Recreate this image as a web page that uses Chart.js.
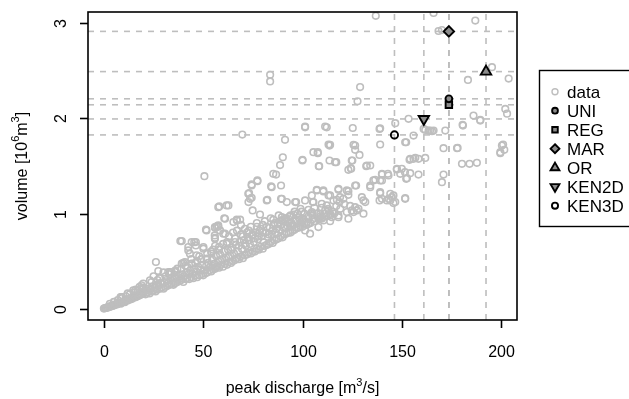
<!DOCTYPE html>
<html lang="en">
<head>
  <meta charset="UTF-8" />
  <title>Peak discharge vs volume</title>
  <script src="https://cdn.jsdelivr.net/npm/chart.js@4"></script>
  <style>
    html, body { margin: 0; padding: 0; background: #fff; }
    #chart { display: block; }
  </style>
</head>
<body>
  <canvas id="chart" width="629" height="399"></canvas>

  <script>
    // axis limits (R adds 4% on each side) and ticks
    const xLimits = [0, 200];
    const yLimits = [0, 3];
    const xTicks = [0, 50, 100, 150, 200];
    const yTicks = [0, 1, 2, 3];

    // design event estimates per method
    const methodNames = ['UNI', 'REG', 'MAR', 'OR', 'KEN2D', 'KEN3D'];
    const methodPeak = [173.7, 173.7, 173.7, 192.4, 161.1, 146.3];
    const methodVolume = [2.207, 2.144, 2.916, 2.493, 1.995, 1.827];

    const obsPoints = [
      [0,0],[0.5,0.004],[1,0.006],[1.5,0.01],[2,0.012],[2.5,0.02],[3,0.018],[3.5,0.025],[4,0.03],[4.5,0.028],
      [5,0.035],[5.5,0.04],[6,0.045],[6.5,0.042],[7,0.05],[7.5,0.055],[8,0.06],[8.5,0.052],[9,0.065],[9.5,0.07],
      [10,0.075],[10.5,0.068],[11,0.08],[11.5,0.09],[12,0.085],[12.5,0.1],[13,0.095],[13.5,0.11],[14,0.1],[14.5,0.12],
      [15,0.115],[15.5,0.13],[16,0.12],[16.5,0.14],[17,0.13],[17.5,0.15],[18,0.14],[18.5,0.16],[19,0.15],[19.5,0.17],
      [20,0.16],[3,0.05],[5,0.07],[7,0.09],[9,0.11],[11,0.13],[13,0.15],[15,0.17],[17,0.19],[19,0.21],[12,0.16],
      [16,0.2],[18,0.23],[20,0.22],
      [21,0.15],[21.5,0.19],[22,0.17],[22.5,0.21],[23,0.16],[23.5,0.2],[24,0.18],[24.5,0.23],[25,0.19],[25.5,0.22],
      [26,0.18],[26.5,0.25],[27,0.2],[27.5,0.24],[28,0.21],[28.5,0.27],[29,0.22],[29.5,0.26],[30,0.21],[30.5,0.28],
      [31,0.23],[31.5,0.3],[32,0.24],[32.5,0.27],[33,0.25],[33.5,0.31],[34,0.26],[34.5,0.29],[35,0.25],[35.5,0.33],
      [36,0.27],[36.5,0.31],[37,0.28],[37.5,0.35],[38,0.29],[38.5,0.32],[39,0.3],[39.5,0.36],[40,0.28],[40.5,0.34],
      [41,0.31],[41.5,0.38],[42,0.32],[42.5,0.36],[43,0.31],[43.5,0.4],[44,0.33],[44.5,0.37],[45,0.32],[45.5,0.42],
      [46,0.35],[46.5,0.39],[47,0.33],[47.5,0.44],[48,0.35],[48.5,0.41],[49,0.36],[49.5,0.46],[50,0.35],
      [24,0.28],[28,0.32],[33,0.36],[36,0.4],[39,0.42],[41,0.45],[44,0.47],[47,0.5],[49,0.52],
      [50.5,0.4],[51,0.37],[51.5,0.45],[52,0.38],[52.5,0.48],[53,0.4],[53.5,0.44],[54,0.39],[54.5,0.52],[55,0.41],
      [55.5,0.47],[56,0.42],[56.5,0.55],[57,0.44],[57.5,0.5],[58,0.43],[58.5,0.57],[59,0.46],[59.5,0.52],[60,0.44],
      [60.5,0.6],[61,0.47],[61.5,0.54],[62,0.46],[62.5,0.62],[63,0.49],[63.5,0.56],[64,0.48],[64.5,0.64],[65,0.5],
      [65.5,0.58],[66,0.51],[66.5,0.67],[67,0.53],[67.5,0.6],[68,0.52],[68.5,0.7],[69,0.55],[69.5,0.63],[70,0.53],
      [70.5,0.72],[71,0.56],[71.5,0.66],[72,0.57],[72.5,0.75],[73,0.59],[73.5,0.68],[74,0.58],[74.5,0.77],[75,0.6],
      [75.5,0.7],[76,0.6],[76.5,0.8],[77,0.63],[77.5,0.73],[78,0.62],[78.5,0.82],[79,0.65],[79.5,0.76],[80,0.63],
      [52,0.58],[55,0.62],[58,0.65],[62,0.7],[66,0.74],[69,0.78],[73,0.82],[77,0.86],[80,0.88],
      [80.5,0.7],[81,0.66],[81.5,0.8],[82,0.67],[82.5,0.75],[83,0.68],[83.5,0.85],[84,0.7],[84.5,0.78],[85,0.69],
      [85.5,0.88],[86,0.72],[86.5,0.8],[87,0.73],[87.5,0.9],[88,0.74],[88.5,0.83],[89,0.76],[89.5,0.93],[90,0.75],
      [90.5,0.85],[91,0.78],[91.5,0.95],[92,0.79],[92.5,0.87],[93,0.8],[93.5,0.97],[94,0.8],[94.5,0.9],[95,0.82],
      [95.5,0.99],[96,0.83],[96.5,0.92],[97,0.85],[97.5,1.0],[98,0.85],[98.5,0.94],[99,0.87],[99.5,1.02],[100,0.86],
      [101,0.9],[102,0.88],[103,0.97],[104,0.9],[105,0.94],[106,0.92],[107,1.0],[108,0.94],[109,0.97],[110,0.96],
      [111,1.0],[112,0.97],[113,1.05],[114,0.98],[115,1.02],[116,1.0],[117,1.08],[119,1.05],[121,1.1],[124,1.08],
      [64,0.62],[66,0.7],[68,0.66],[70,0.76],[71,0.68],[72,0.8],[73,0.72],[74,0.86],[75,0.78],[76,0.74],
      [77,0.9],[78,0.76],[79,0.84],[80,0.8],[81,0.92],[82,0.86],[83,0.78],[84,0.95],[85,0.82],[86,0.9],
      [87,0.84],[88,0.98],[89,0.88],[90,0.92],[91,0.86],[92,0.95],[93,0.9],[94,0.98],[95,0.88],[96,1.02],
      [97,0.93],[98,0.96],[99,1.05],[100,0.92],[101,1.0],[103,1.04],[105,0.98],[106,1.06],[67,0.82],[69,0.88],
      [71,0.84],[63,0.76],[65,0.8],[60,0.68],[58,0.62],[56,0.66],[54,0.6],[52,0.52],[48,0.55],[46,0.48],
      [44,0.52],[42,0.44],[40,0.48],[37,0.42],[34,0.38],[31,0.34],[30,0.38],[27,0.3],[25,0.34],
      [136.9,3.08],[166.0,3.11],[187.0,3.03],[168.5,2.92],[170.2,2.93],[195.4,2.54],[183.3,2.405],[203.8,2.42],
      [83.7,2.46],[83.7,2.39],[129.0,2.33],[127.7,2.18],[202.1,2.10],[203.0,2.05],[186.1,2.03],[189.5,1.985],
      [180.8,1.925],[171.9,1.873],[161.0,1.89],[163.5,1.873],[165.2,1.866],[153.4,1.996],[146.7,1.95],[139.1,1.897],
      [125.3,1.90],[112.2,1.907],[101.3,1.907],[69.7,1.831],[91.2,1.775],[151.7,1.75],[155.9,1.82],[139.1,1.726],
      [126.5,1.715],[126.5,1.67],[113.6,1.715],[178.1,1.69],[201.0,1.726],[199.6,1.634],[201.6,1.67],[90.1,1.592],
      [88.7,1.51],[105.5,1.645],[107.7,1.634],[100.0,1.558],[113.6,1.558],[117.0,1.54],[108.2,1.498],[128.7,1.617],
      [125.1,1.558],[124.5,1.47],[123.1,1.46],[132.4,1.505],[134.1,1.505],[161.8,1.585],[158.4,1.575],[155.9,1.575],
      [153.9,1.565],[180.3,1.523],[184.1,1.523],[187.8,1.533],[171.0,1.41],[170.2,1.33],[158.4,1.41],[147.5,1.47],
      [150.0,1.47],[151.6,1.435],[154.2,1.424],[152.6,1.372],[143.0,1.418],[140.0,1.41],[139.1,1.348],[135.7,1.348],
      [134.1,1.295],[127.0,1.295],[107.2,1.25],[110.5,1.232],[113.9,1.19],[118.1,1.25],[123.1,1.235],[117.3,1.145],
      [120.6,1.155],[118.6,1.12],[129.9,1.172],[131.6,1.12],[139.1,1.214],[138.8,1.138],[142.5,1.138],[145.0,1.172],
      [145.8,1.11],[151.7,1.155],[144.2,1.208],[101.3,1.138],[96.3,1.12],[92.1,1.12],[89.6,1.155],[82.0,1.138],
      [105.5,1.12],[109.7,1.103],[113.1,1.033],[113.9,0.998],[108.5,0.945],[110.5,0.928],[118.1,0.962],[122.3,1.015],
      [125.7,1.015],[127.4,1.033],[130.7,0.998],[123.1,0.945],[113.9,0.92],[104.7,0.998],[72.7,1.208],[74.4,1.295],
      [77.3,1.34],[73.6,1.155],[74.9,1.033],[85.3,1.418],[84.5,1.277],[89.2,1.295],[50.6,1.393],[57.6,1.067],
      [61.8,1.085],[61.0,0.945],[65.2,0.91],[66.9,0.935],[51.7,0.822],[55.9,0.857],[57.6,0.86],[60.1,0.788],
      [55.9,0.735],[38.5,0.71],[42.5,0.647],[45.5,0.70],[43.3,0.578],[50.1,0.63],[26.2,0.49],[27.4,0.395],
      [33.3,0.385],[35.8,0.385],[23.2,0.297],[19.8,0.263],[14.8,0.192],[8.9,0.122],
      [138.8,1.89],[113.9,1.723],[125.7,1.723],[116.4,1.54],[124.8,1.558],[124.3,1.477],[132.1,1.498],[147.5,1.463],
      [149.2,1.418],[152.2,1.365],[154.2,1.575],[156.8,1.586],[140.0,1.418],[143.3,1.40],[140.0,1.348],[136.6,1.355],
      [134.1,1.277],[126.5,1.295],[122.3,1.243],[123.1,1.197],[118.1,1.26],[118.9,1.172],[115.6,1.138],[113.1,1.19],
      [110.5,1.243],[107.2,1.243],[104.7,1.19],[140.0,1.155],[143.3,1.155],[145.8,1.19],[146.7,1.12],[144.2,1.138],
      [139.1,1.225],[151.7,1.162],[130.7,1.138],[126.5,1.067],[124.8,1.033],[118.1,0.98],[114.8,0.962],[109.7,0.945],
      [108.9,0.998],[111.4,1.033],[100.5,0.945],[103.0,0.893],[101.3,0.822],[103.8,0.788],[128.2,1.05],[171.0,1.687],
      [180.6,1.933],[189.5,1.978],[200.4,1.715],[199.6,1.645],[161.8,1.88],[164.3,1.873],[166.0,1.873],[152.2,1.75],
      [177.8,1.687],
      [101.3,1.915],[111.4,1.915],[113.1,1.726],[107.7,1.645],[100.0,1.565],[108.4,1.498],[86.7,1.41],[74.4,1.306],
      [77.3,1.348],[84.2,1.285],[73.1,1.214],[74.4,1.166],[72.8,1.12],[82.3,1.145],[89.2,1.155],[96.8,1.12],
      [105.2,1.12],[58.1,1.075],[62.7,1.085],[78.6,0.99],[60.6,0.95],[67.0,0.928],[68.6,0.935],[51.4,0.83],
      [56.8,0.864],[58.5,0.822],[55.8,0.77],[39.2,0.71],[46.3,0.70],[50.1,0.647],[85.3,0.935],[89.6,0.962],
      [91.2,0.928],[94.6,0.864],[98.8,0.893],[102.2,0.91],[104.7,1.015],[109.7,1.06],[112.2,1.085],[108.0,0.857],
      [55.9,0.85],[57.6,0.875],[55.9,0.745],[61.0,0.788],[61.8,0.683],[44.2,0.70],[46.3,0.665],[42.5,0.612],
      [46.7,0.56],[44.2,0.473],[40.8,0.49],[51.7,0.525],[54.2,0.578],[55.9,0.437],[58.5,0.507],[62.7,0.542],
      [28.2,0.325],[32.4,0.385],[35.8,0.395],[39.2,0.473],[19.0,0.245],[8.4,0.122]
    ];

    // styles
    const dataGrey = '#bebebe';
    const markerFill = '#8a8a8a';
    const markerStyles = {
      UNI:   { shape: 'circle',   r: 3.4, rot: 0,   fill: markerFill },
      REG:   { shape: 'rect',     r: 4.6, rot: 0,   fill: markerFill },
      MAR:   { shape: 'rectRot',  r: 5.2, rot: 0,   fill: markerFill },
      OR:    { shape: 'triangle', r: 6.0, rot: 0,   fill: markerFill },
      KEN2D: { shape: 'triangle', r: 6.0, rot: 180, fill: markerFill },
      KEN3D: { shape: 'circle',   r: 3.6, rot: 0,   fill: 'rgba(0,0,0,0)' }
    };

    const xPad = (xLimits[1] - xLimits[0]) * 0.04;
    const yPad = (yLimits[1] - yLimits[0]) * 0.04;
    const xMin = xLimits[0] - xPad, xMax = xLimits[1] + xPad;
    const yMin = yLimits[0] - yPad, yMax = yLimits[1] + yPad;

    const datasets = [];

    datasets.push({
      label: 'data',
      data: obsPoints.map(p => ({ x: p[0], y: p[1] })),
      pointStyle: 'circle',
      pointRadius: 3.3,
      borderWidth: 1.6,
      borderColor: dataGrey,
      backgroundColor: 'rgba(0,0,0,0)',
      clip: 0,
      order: 3
    });

    // dashed reference lines through each estimate
    methodNames.forEach((name, i) => {
      const dashed = {
        showLine: true,
        pointRadius: 0,
        borderColor: dataGrey,
        borderWidth: 1.6,
        borderDash: [6, 6],
        clip: 0,
        order: 2
      };
      datasets.push(Object.assign({ label: name + '-h', data: [{ x: xMin, y: methodVolume[i] }, { x: xMax, y: methodVolume[i] }] }, dashed));
      datasets.push(Object.assign({ label: name + '-v', data: [{ x: methodPeak[i], y: yMin }, { x: methodPeak[i], y: yMax }] }, dashed));
    });

    methodNames.forEach((name, i) => {
      const st = markerStyles[name];
      datasets.push({
        label: name,
        data: [{ x: methodPeak[i], y: methodVolume[i] }],
        pointStyle: st.shape,
        pointRadius: st.r,
        rotation: st.rot,
        borderWidth: 1.9,
        borderColor: '#000',
        backgroundColor: st.fill,
        order: 1
      });
    });

    const FONT = '"Liberation Sans", Arial, Helvetica, sans-serif';

    // text with raised parts, centred on x at baseline y
    function drawRich(ctx, parts, x, y, size) {
      const supSize = Math.round(size * 0.7);
      let total = 0;
      parts.forEach(p => {
        ctx.font = (p.sup ? supSize : size) + 'px ' + FONT;
        p.w = ctx.measureText(p.t).width;
        total += p.w;
      });
      let cx = x - total / 2;
      ctx.textAlign = 'left';
      ctx.textBaseline = 'alphabetic';
      parts.forEach(p => {
        ctx.font = (p.sup ? supSize : size) + 'px ' + FONT;
        ctx.fillText(p.t, cx, p.sup ? y - size * 0.45 : y);
        cx += p.w;
      });
    }

    function drawMarker(ctx, shape, r, rot, x, y) {
      let rad = rot * Math.PI / 180;
      ctx.beginPath();
      if (shape === 'circle') {
        ctx.arc(x, y, r, 0, Math.PI * 2);
      } else if (shape === 'rect') {
        const s = r * Math.SQRT1_2;
        ctx.rect(x - s, y - s, 2 * s, 2 * s);
      } else if (shape === 'rectRot') {
        ctx.moveTo(x, y - r);
        ctx.lineTo(x + r, y);
        ctx.lineTo(x, y + r);
        ctx.lineTo(x - r, y);
        ctx.closePath();
      } else if (shape === 'triangle') {
        ctx.moveTo(x + Math.sin(rad) * r, y - Math.cos(rad) * r);
        rad += Math.PI * 2 / 3;
        ctx.lineTo(x + Math.sin(rad) * r, y - Math.cos(rad) * r);
        rad += Math.PI * 2 / 3;
        ctx.lineTo(x + Math.sin(rad) * r, y - Math.cos(rad) * r);
        ctx.closePath();
      }
      ctx.fill();
      ctx.stroke();
    }

    const rAxes = {
      id: 'rAxes',
      afterDraw(chart) {
        const ctx = chart.ctx;
        const area = chart.chartArea;
        const xs = chart.scales.x, ys = chart.scales.y;
        ctx.save();
        ctx.strokeStyle = '#000';
        ctx.fillStyle = '#000';
        ctx.lineWidth = 1.6;

        // box
        ctx.strokeRect(area.left, area.top, area.right - area.left, area.bottom - area.top);

        // x axis ticks + labels
        ctx.font = '16px ' + FONT;
        ctx.textAlign = 'center';
        ctx.textBaseline = 'alphabetic';
        xTicks.forEach(v => {
          const px = Math.round(xs.getPixelForValue(v)) + 0.5;
          ctx.beginPath();
          ctx.moveTo(px, area.bottom);
          ctx.lineTo(px, area.bottom + 8);
          ctx.stroke();
          ctx.fillText(String(v), px, 357);
        });

        // y axis ticks + rotated labels
        yTicks.forEach(v => {
          const py = Math.round(ys.getPixelForValue(v)) + 0.5;
          ctx.beginPath();
          ctx.moveTo(area.left, py);
          ctx.lineTo(area.left - 8, py);
          ctx.stroke();
          ctx.save();
          ctx.translate(66, py);
          ctx.rotate(-Math.PI / 2);
          ctx.font = '16px ' + FONT;
          ctx.textAlign = 'center';
          ctx.fillText(String(v), 0, 0);
          ctx.restore();
        });

        // axis titles
        const midX = (area.left + area.right) / 2;
        const midY = (area.top + area.bottom) / 2;
        drawRich(ctx, [{ t: 'peak discharge [m' }, { t: '3', sup: true }, { t: '/s]' }], midX, 393, 16);
        ctx.save();
        ctx.translate(26.5, midY);
        ctx.rotate(-Math.PI / 2);
        drawRich(ctx, [{ t: 'volume [10' }, { t: '6', sup: true }, { t: 'm' }, { t: '3', sup: true }, { t: ']' }], 0, 0, 16);
        ctx.restore();

        // legend
        ctx.lineWidth = 1.4;
        ctx.strokeRect(539.5, 70.5, 120, 156);
        const rowY = 91.7, rowH = 19, symX = 555, txtX = 567;
        ctx.font = '17px ' + FONT;
        ctx.textAlign = 'left';
        ctx.textBaseline = 'alphabetic';
        // data entry
        ctx.strokeStyle = dataGrey;
        ctx.fillStyle = 'rgba(0,0,0,0)';
        ctx.lineWidth = 1.4;
        drawMarker(ctx, 'circle', 3, 0, symX, rowY);
        ctx.fillStyle = '#000';
        ctx.fillText('data', txtX, rowY + 6);
        methodNames.forEach((name, i) => {
          const st = markerStyles[name];
          const y = rowY + rowH * (i + 1);
          ctx.strokeStyle = '#000';
          ctx.fillStyle = st.fill;
          ctx.lineWidth = 1.9;
          drawMarker(ctx, st.shape, st.r * 0.85, st.rot, symX, y);
          ctx.fillStyle = '#000';
          ctx.fillText(name, txtX, y + 6);
        });
        ctx.restore();
      }
    };

    new Chart(document.getElementById('chart'), {
      type: 'scatter',
      data: { datasets: datasets },
      options: {
        responsive: false,
        animation: false,
        events: [],
        layout: { padding: { left: 88, top: 12, right: 112, bottom: 79 } },
        plugins: { legend: { display: false }, tooltip: { enabled: false } },
        scales: {
          x: { type: 'linear', min: xMin, max: xMax, display: false },
          y: { type: 'linear', min: yMin, max: yMax, display: false }
        }
      },
      plugins: [rAxes]
    });
  </script>
</body>
</html>
